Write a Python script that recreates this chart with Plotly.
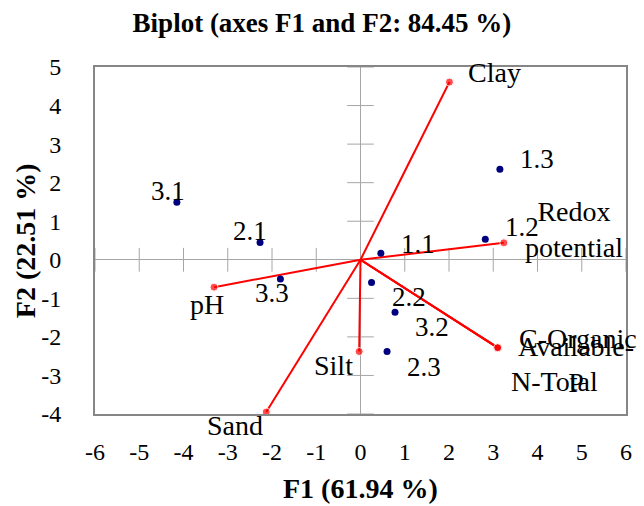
import plotly.graph_objects as go

# ---- data ----
obs_labels = ["1.1", "1.2", "1.3", "2.1", "2.2", "2.3", "3.1", "3.2", "3.3"]
obs_f1 = [0.46, 2.82, 3.15, -2.27, 0.25, 0.60, -4.15, 0.78, -1.81]
obs_f2 = [0.17, 0.53, 2.35, 0.45, -0.59, -2.38, 1.49, -1.36, -0.50]

var_labels = ["Clay", "Redox<br>potential", "pH", "Silt", "Sand",
              "C-Organic", "Available-<br>P", "N-Total"]
var_f1 = [2.01, 3.24, -3.31, -0.03, -2.13, 3.10, 3.10, 3.10]
var_f2 = [4.61, 0.44, -0.71, -2.38, -3.95, -2.28, -2.28, -2.28]

x_ticks = [-6, -5, -4, -3, -2, -1, 0, 1, 2, 3, 4, 5, 6]
y_ticks = [-4, -3, -2, -1, 0, 1, 2, 3, 4, 5]

# label offsets (pixels) relative to their marks
obs_shift = {"1.1": (37, 9), "1.2": (37, 12), "1.3": (37, 10), "2.1": (-10, 11),
             "2.2": (37, -14), "2.3": (37, -15), "3.1": (-9, 11), "3.2": (37, -15),
             "3.3": (-8, -14)}
var_shift = {"Clay": (45, 10), "Redox<br>potential": (70, 13), "pH": (-7, -17),
             "Silt": (-26, -14), "Sand": (-31, -13), "C-Organic": (80, 9),
             "Available-<br>P": (78, -17), "N-Total": (57, -34)}

FONT = "Liberation Serif, Times New Roman, serif"
AXIS_GRAY = "#a6a6a6"
FRAME_GRAY = "#868686"

fig = go.Figure()

# cross tick marks on the zero lines
fig.add_trace(go.Scatter(
    x=[t for t in x_ticks if t != 0], y=[0] * (len(x_ticks) - 1),
    mode="markers", hoverinfo="skip", showlegend=False,
    marker=dict(symbol="line-ns", size=17, line=dict(color=AXIS_GRAY, width=1)),
    cliponaxis=False))
fig.add_trace(go.Scatter(
    x=[0] * (len(y_ticks) - 1), y=[t for t in y_ticks if t != 0],
    mode="markers", hoverinfo="skip", showlegend=False,
    marker=dict(symbol="line-ew", size=19, line=dict(color=AXIS_GRAY, width=1)),
    cliponaxis=False))

# variable vectors
for lab, vx, vy in zip(var_labels, var_f1, var_f2):
    fig.add_trace(go.Scatter(
        x=[0, vx], y=[0, vy], mode="lines+markers", showlegend=False,
        line=dict(color="#ff0000", width=2),
        marker=dict(color="#ff0000", size=[0, 8]),
        cliponaxis=False, name=lab.replace("<br>", " ")))

# observations
fig.add_trace(go.Scatter(
    x=obs_f1, y=obs_f2, mode="markers", showlegend=False,
    marker=dict(color="#00007f", size=7), text=obs_labels, cliponaxis=False))

annotations = []
for lab, ox, oy in zip(obs_labels, obs_f1, obs_f2):
    dx, dy = obs_shift[lab]
    annotations.append(dict(x=ox, y=oy, xref="x", yref="y", text=lab, showarrow=False,
                            xshift=dx, yshift=dy, font=dict(family=FONT, size=27, color="black")))
for lab, vx, vy in zip(var_labels, var_f1, var_f2):
    dx, dy = var_shift[lab]
    annotations.append(dict(x=vx, y=vy, xref="x", yref="y", text=lab, showarrow=False,
                            xshift=dx, yshift=dy, align="center",
                            font=dict(family=FONT, size=28, color="black")))

annotations.append(dict(x=0.5, y=-0.216, xref="paper", yref="paper", text="<b>F1 (61.94 %)</b>",
                        showarrow=False, xanchor="center", yanchor="middle",
                        font=dict(family=FONT, size=28, color="black")))
annotations.append(dict(x=-0.1306, y=0.5, xref="paper", yref="paper", text="<b>F2 (22.51 %)</b>",
                        showarrow=False, xanchor="center", yanchor="middle", textangle=-90,
                        font=dict(family=FONT, size=28, color="black")))

fig.update_layout(
    width=644, height=506,
    margin=dict(l=95, r=13, t=67, b=92),
    paper_bgcolor="white", plot_bgcolor="white",
    title=dict(text="<b>Biplot (axes F1 and F2: 84.45 %)</b>", x=0.5, xref="container",
               xanchor="center", y=1 - 23 / 506, yref="container", yanchor="middle",
               font=dict(family=FONT, size=27, color="black")),
    annotations=annotations,
    xaxis=dict(range=[-6, 6], tickvals=x_ticks, ticktext=[str(t) for t in x_ticks],
               showgrid=False,
               zeroline=True, zerolinecolor=AXIS_GRAY, zerolinewidth=1,
               showline=True, mirror=True, linecolor=FRAME_GRAY, linewidth=2,
               ticks="", ticklabelstandoff=15,
               tickfont=dict(family=FONT, size=24, color="black")),
    yaxis=dict(range=[-4, 5], tickvals=y_ticks, ticktext=[str(t) for t in y_ticks],
               showgrid=False,
               zeroline=True, zerolinecolor=AXIS_GRAY, zerolinewidth=1,
               showline=True, mirror=True, linecolor=FRAME_GRAY, linewidth=2,
               ticks="", ticklabelstandoff=27,
               tickfont=dict(family=FONT, size=24, color="black")),
)

fig.write_html("out.html", config={"displayModeBar": False},
               post_script="document.body.style.margin='0';document.body.style.overflow='hidden';")
